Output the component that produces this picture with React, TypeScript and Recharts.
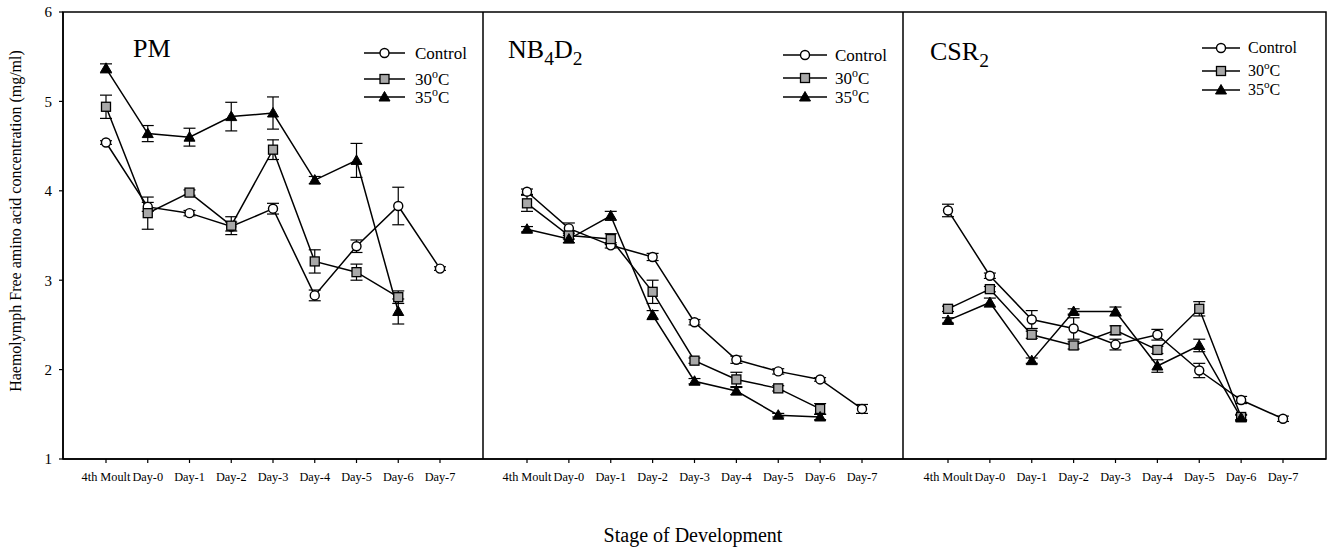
import React from 'react';
import {
  LineChart,
  Line,
  XAxis,
  YAxis,
  ErrorBar,
  ReferenceArea,
  Legend,
  Customized,
} from 'recharts';

const FONT = '"Liberation Serif", "Times New Roman", serif';

const stages = ['4th Moult', 'Day-0', 'Day-1', 'Day-2', 'Day-3', 'Day-4', 'Day-5', 'Day-6', 'Day-7'];
const stageIdx = stages.map((_, i) => i);
const yTicks = [1, 2, 3, 4, 5, 6];

// PM
const pmControl = [4.54, 3.82, 3.75, 3.6, 3.8, 2.83, 3.38, 3.83, 3.13];
const pmControlErr = [0.02, 0.05, 0.03, 0.05, 0.06, 0.06, 0.07, 0.21, 0.02];
const pm30 = [4.94, 3.75, 3.98, 3.61, 4.46, 3.21, 3.09, 2.81, null];
const pm30Err = [0.13, 0.18, 0.03, 0.1, 0.11, 0.13, 0.09, 0.07, null];
const pm35 = [5.37, 4.64, 4.6, 4.83, 4.87, 4.12, 4.34, 2.65, null];
const pm35Err = [0.05, 0.09, 0.1, 0.16, 0.18, 0.04, 0.19, 0.14, null];

// NB4D2
const nbControl = [3.99, 3.58, 3.39, 3.26, 2.53, 2.11, 1.98, 1.89, 1.56];
const nbControlErr = [0.03, 0.06, 0.03, 0.04, 0.03, 0.04, 0.03, 0.02, 0.05];
const nb30 = [3.86, 3.5, 3.46, 2.87, 2.1, 1.89, 1.79, 1.56, null];
const nb30Err = [0.09, 0.04, 0.06, 0.13, 0.03, 0.08, 0.03, 0.06, null];
const nb35 = [3.57, 3.46, 3.72, 2.61, 1.87, 1.76, 1.49, 1.47, null];
const nb35Err = [0.03, 0.04, 0.05, 0.05, 0.03, 0.04, 0.02, 0.03, null];

// CSR2
const csrControl = [3.78, 3.05, 2.56, 2.46, 2.28, 2.39, 1.99, 1.66, 1.45];
const csrControlErr = [0.07, 0.03, 0.1, 0.12, 0.06, 0.06, 0.08, 0.04, 0.03];
const csr30 = [2.68, 2.9, 2.39, 2.27, 2.44, 2.22, 2.68, 1.47, null];
const csr30Err = [0.03, 0.03, 0.04, 0.04, 0.05, 0.04, 0.08, 0.03, null];
const csr35 = [2.55, 2.75, 2.1, 2.65, 2.65, 2.04, 2.27, 1.46, null];
const csr35Err = [0.03, 0.05, 0.03, 0.03, 0.05, 0.07, 0.07, 0.03, null];

const seriesOrder = ['control', 't30', 't35'];

type Num = number | null;

const buildRows = (c: Num[], cE: Num[], a: Num[], aE: Num[], b: Num[], bE: Num[]) =>
  stages.map((stage, i) => ({
    x: i,
    stage,
    control: c[i],
    controlErr: cE[i] ?? undefined,
    t30: a[i],
    t30Err: aE[i] ?? undefined,
    t35: b[i],
    t35Err: bE[i] ?? undefined,
  }));

const drawMarker = (kind: string, cx: number, cy: number, key?: string) => {
  if (kind === 'control') {
    return <circle key={key} cx={cx} cy={cy} r={4.5} fill="#fff" stroke="#000" strokeWidth={1.4} />;
  }
  if (kind === 't30') {
    return (
      <rect key={key} x={cx - 4.5} y={cy - 4.5} width={9} height={9} fill="#a8a8a8" stroke="#000" strokeWidth={1.3} />
    );
  }
  return (
    <polygon
      key={key}
      points={`${cx},${cy - 5.5} ${cx - 5.5},${cy + 4} ${cx + 5.5},${cy + 4}`}
      fill="#000"
      stroke="#000"
      strokeWidth={1}
    />
  );
};

const dotFor = (kind: string) => (props: any) => {
  const { cx, cy, index } = props;
  if (cx == null || cy == null || isNaN(cy)) return <g key={`${kind}-${index}`} />;
  return drawMarker(kind, cx, cy, `${kind}-${index}`);
};

const legendLabel = (kind: string) => {
  if (kind === 'control') return 'Control';
  const n = kind === 't30' ? '30' : '35';
  return (
    <>
      {n}
      <tspan dy={-7} fontSize="0.7em">o</tspan>
      <tspan dy={7}>C</tspan>
    </>
  );
};

interface PanelProps {
  left: number;
  width: number;
  plotLeft: number;
  rightMargin: number;
  data: ReturnType<typeof buildRows>;
  padL: number;
  padR: number;
  title: React.ReactNode;
  titleX: number;
  titleY: number;
  legend: { x1: number; x2: number; tx: number; rows: number[]; fs: number };
  first?: boolean;
  middle?: boolean;
}

const Panel: React.FC<PanelProps> = ({
  left, width, plotLeft, rightMargin, data, padL, padR, title, titleX, titleY, legend, first, middle,
}) => {
  // pixel padding at both ends of the category axis, turned into domain units
  const plotW = width - plotLeft - rightMargin;
  const step = (plotW - padL - padR) / (stages.length - 1);
  const xDomain = [-padL / step, stages.length - 1 + padR / step];

  const renderLegend = () => (
    <svg width={width} height={110} style={{ display: 'block', overflow: 'visible' }}>
      {seriesOrder.map((kind, i) => {
        const y = legend.rows[i];
        return (
          <g key={kind}>
            <line x1={legend.x1} x2={legend.x2} y1={y} y2={y} stroke="#000" strokeWidth={1.5} />
            {drawMarker(kind, (legend.x1 + legend.x2) / 2, y)}
            <text x={legend.tx} y={y + legend.fs * 0.33} fontSize={legend.fs} fontFamily={FONT} fill="#000">
              {legendLabel(kind)}
            </text>
          </g>
        );
      })}
    </svg>
  );

  return (
    <div style={{ position: 'absolute', left, top: 0 }}>
      <LineChart
        width={width}
        height={548}
        data={data}
        margin={{ top: 12, right: rightMargin, bottom: 0, left: 0 }}
      >
        <XAxis
          type="number"
          dataKey="x"
          domain={xDomain}
          ticks={stageIdx}
          tickFormatter={(v: number) => stages[v] ?? ''}
          height={89}
          interval={0}
          tickSize={4}
          tickMargin={9}
          stroke="#000"
          axisLine={{ stroke: '#000', strokeWidth: 1.5 }}
          tickLine={{ stroke: '#000', strokeWidth: 1.2 }}
          tick={{ fill: '#000', fontSize: 12.3, fontFamily: FONT }}
          label={
            middle
              ? { value: 'Stage of Development', position: 'insideBottom', offset: 6, fill: '#000', fontSize: 20, fontFamily: FONT }
              : undefined
          }
        />
        <YAxis
          domain={[1, 6]}
          ticks={yTicks}
          hide={!first}
          width={first ? plotLeft : 0}
          tick={{ fill: '#000', fontSize: 15, fontFamily: FONT }}
          tickLine={{ stroke: '#000', strokeWidth: 1.2 }}
          tickSize={4}
          tickMargin={7}
          stroke="#000"
          axisLine={{ stroke: '#000', strokeWidth: 1.5 }}
          label={
            first
              ? {
                  value: 'Haemolymph Free amino acid concentration (mg/ml)',
                  content: (lp: any) => (
                    <text
                      x={15}
                      y={221}
                      transform="rotate(-90 15 221)"
                      textAnchor="middle"
                      dominantBaseline="central"
                      fontSize={16}
                      fontFamily={FONT}
                      fill="#000"
                    >
                      {lp.value}
                    </text>
                  ),
                }
              : undefined
          }
        />
        {/* panel frame */}
        <ReferenceArea
          y1={1}
          y2={6}
          fill="none"
          fillOpacity={0}
          stroke="#000"
          strokeWidth={1.5}
          ifOverflow="visible"
        />
        <Legend
          layout="horizontal"
          verticalAlign="middle"
          align="center"
          wrapperStyle={{ left: 0, top: 0, width, height: 110 }}
          content={renderLegend}
        />
        <Customized
          component={() => (
            <text x={titleX} y={titleY} fontSize={26} fontFamily={FONT} fill="#000">
              {title}
            </text>
          )}
        />
        <Line
          type="linear"
          dataKey="control"
          name="Control"
          stroke="#000"
          strokeWidth={1.5}
          dot={dotFor('control')}
          activeDot={false}
          isAnimationActive={false}
        >
          <ErrorBar dataKey="controlErr" width={6} stroke="#000" strokeWidth={1.2} direction="y" />
        </Line>
        <Line
          type="linear"
          dataKey="t30"
          name="30°C"
          stroke="#000"
          strokeWidth={1.5}
          dot={dotFor('t30')}
          activeDot={false}
          isAnimationActive={false}
        >
          <ErrorBar dataKey="t30Err" width={6} stroke="#000" strokeWidth={1.2} direction="y" />
        </Line>
        <Line
          type="linear"
          dataKey="t35"
          name="35°C"
          stroke="#000"
          strokeWidth={1.5}
          dot={dotFor('t35')}
          activeDot={false}
          isAnimationActive={false}
        >
          <ErrorBar dataKey="t35Err" width={6} stroke="#000" strokeWidth={1.2} direction="y" />
        </Line>
      </LineChart>
    </div>
  );
};

const sub = (t: string) => (
  <tspan dy={7} fontSize="0.75em">
    {t}
  </tspan>
);

export default function App() {
  const pmData = buildRows(pmControl, pmControlErr, pm30, pm30Err, pm35, pm35Err);
  const nbData = buildRows(nbControl, nbControlErr, nb30, nb30Err, nb35, nb35Err);
  const csrData = buildRows(csrControl, csrControlErr, csr30, csr30Err, csr35, csr35Err);

  return (
    <div
      style={{
        position: 'absolute',
        left: 0,
        top: 0,
        width: 1328,
        height: 548,
        background: '#fff',
        fontFamily: FONT,
      }}
    >
      <Panel
        left={0}
        width={483}
        plotLeft={63}
        rightMargin={0}
        data={pmData}
        padL={43}
        padR={43}
        title="PM"
        titleX={133}
        titleY={57}
        legend={{ x1: 364, x2: 405, tx: 415, rows: [53, 79, 97], fs: 17 }}
        first
      />
      <Panel
        left={483}
        width={420}
        plotLeft={0}
        rightMargin={0}
        data={nbData}
        padL={44}
        padR={41}
        title={
          <>
            NB{sub('4')}
            <tspan dy={-7}>D</tspan>
            {sub('2')}
          </>
        }
        titleX={25}
        titleY={58}
        legend={{ x1: 300, x2: 344, tx: 352, rows: [55, 78, 97], fs: 17 }}
        middle
      />
      <Panel
        left={903}
        width={425}
        plotLeft={0}
        rightMargin={2}
        data={csrData}
        padL={45}
        padR={43}
        title={<>CSR{sub('2')}</>}
        titleX={27}
        titleY={60}
        legend={{ x1: 299, x2: 337, tx: 345, rows: [48, 71, 90], fs: 16 }}
      />
    </div>
  );
}
